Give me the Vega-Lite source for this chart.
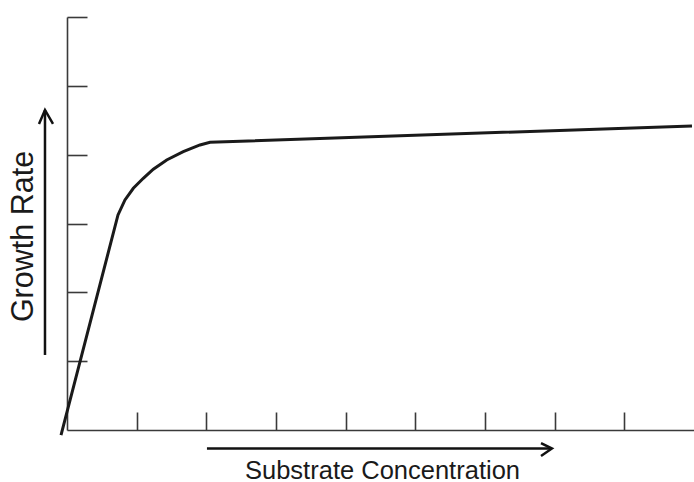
{
  "$schema": "https://vega.github.io/schema/vega-lite/v6.json",
  "width": 627,
  "height": 413,
  "autosize": "none",
  "padding": {"left": 67, "top": 17, "right": 0, "bottom": 52},
  "background": "white",
  "config": {"view": {"stroke": null}},
  "layer": [
    {
      "data": {"values": [
        {"x": -0.086, "y": -0.073, "o": 0},
        {"x": 0.732, "y": 3.124, "o": 1},
        {"x": 0.832, "y": 3.342, "o": 2},
        {"x": 0.952, "y": 3.512, "o": 3},
        {"x": 1.095, "y": 3.657, "o": 4},
        {"x": 1.239, "y": 3.788, "o": 5},
        {"x": 1.431, "y": 3.923, "o": 6},
        {"x": 1.669, "y": 4.043, "o": 7},
        {"x": 1.909, "y": 4.141, "o": 8},
        {"x": 2.053, "y": 4.180, "o": 9},
        {"x": 8.971, "y": 4.417, "o": 10}
      ]},
      "mark": {"type": "line", "color": "#1a1a1a", "strokeWidth": 3, "strokeCap": "butt"},
      "encoding": {
        "x": {"field": "x", "type": "quantitative",
              "scale": {"domain": [0, 9], "nice": false, "zero": false},
              "axis": {"values": [1, 2, 3, 4, 5, 6, 7, 8], "tickSize": -18, "labels": false, "grid": false,
                       "domainColor": "#3a3a3a", "tickColor": "#3a3a3a", "domainWidth": 1.6, "tickWidth": 1.6,
                       "title": "Substrate Concentration", "titleFont": "Liberation Sans", "titleFontSize": 25.5,
                       "titleFontWeight": "normal", "titleColor": "#1a1a1a",
                       "titleX": 315, "titleY": 48, "titleBaseline": "alphabetic", "titleAlign": "center"}},
        "y": {"field": "y", "type": "quantitative",
              "scale": {"domain": [0, 6], "nice": false, "zero": false},
              "axis": {"values": [1, 2, 3, 4, 5, 6], "tickSize": -20, "labels": false, "grid": false,
                       "domainColor": "#3a3a3a", "tickColor": "#3a3a3a", "domainWidth": 1.6, "tickWidth": 1.6,
                       "title": "Growth Rate", "titleFont": "Liberation Sans", "titleFontSize": 30.5,
                       "titleFontWeight": "normal", "titleColor": "#1a1a1a", "titleAngle": -90,
                       "titleX": -35, "titleY": 219, "titleBaseline": "alphabetic", "titleAlign": "center"}},
        "order": {"field": "o", "type": "quantitative"}
      }
    },
    {
      "data": {"values": [
        {"g": "ya", "x": -0.316, "y": 1.090, "o": 0},
        {"g": "ya", "x": -0.316, "y": 4.649, "o": 1},
        {"g": "yh", "x": -0.402, "y": 4.446, "o": 0},
        {"g": "yh", "x": -0.316, "y": 4.649, "o": 1},
        {"g": "yh", "x": -0.201, "y": 4.446, "o": 2},
        {"g": "xa", "x": 2.009, "y": -0.269, "o": 0},
        {"g": "xa", "x": 6.961, "y": -0.269, "o": 1},
        {"g": "xh", "x": 6.804, "y": -0.189, "o": 0},
        {"g": "xh", "x": 6.961, "y": -0.269, "o": 1},
        {"g": "xh", "x": 6.804, "y": -0.378, "o": 2}
      ]},
      "mark": {"type": "line", "color": "#111111", "strokeWidth": 2.5, "strokeCap": "butt", "strokeJoin": "miter"},
      "encoding": {
        "x": {"field": "x", "type": "quantitative"},
        "y": {"field": "y", "type": "quantitative"},
        "detail": {"field": "g", "type": "nominal"},
        "order": {"field": "o", "type": "quantitative"}
      }
    }
  ]
}
